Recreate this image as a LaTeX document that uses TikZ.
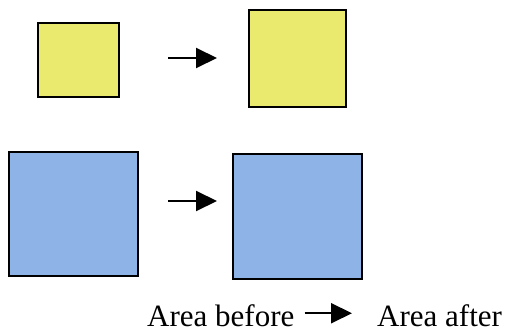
\documentclass[tikz,border=0pt]{standalone}
\usepackage{fontspec}
\setmainfont{Liberation Serif}
\usepackage{xcolor}
\usepackage{tikz}
\usetikzlibrary{arrows.meta}
\definecolor{areaYellow}{HTML}{EAEA6E}
\definecolor{areaBlue}{HTML}{8EB3E6}

\begin{document}
\begin{tikzpicture}[x=1pt, y=-1pt, every node/.style={font=\fontsize{31}{36}\selectfont},
  square/.style={draw=black, line width=2pt, inner sep=0pt, anchor=north west},
  growarrow/.style={-{Triangle[length=21pt, width=20pt]}, line width=2pt}]
   % Canvas (fixes the margins)
   \useasboundingbox (0,0) rectangle (510,329);
    % Yellow squares
    \node[square, fill=areaYellow, minimum width=81pt, minimum height=74pt] (yellowBefore) at (37,22) {};
    \node[square, fill=areaYellow, minimum width=97pt, minimum height=97pt] (yellowAfter) at (248,9) {};
    \coordinate (yellowFrom) at (168,58);
    \coordinate (yellowTo) at (217,58);
    \draw[growarrow] (yellowFrom) -- (yellowTo);

    % Blue squares
    \node[square, fill=areaBlue, minimum width=129pt, minimum height=124pt] (blueBefore) at (8,151) {};
    \node[square, fill=areaBlue, minimum width=129pt, minimum height=125pt] (blueAfter) at (232,153) {};
    \coordinate (blueFrom) at (168,201);
    \coordinate (blueTo) at (217,201);
    \draw[growarrow] (blueFrom) -- (blueTo);

    % Legend
    \node[anchor=base west, inner sep=0pt] (before) at (147,326) {Area before};
    \node[anchor=base west, inner sep=0pt] (after) at (377,326) {Area after};
    \draw[growarrow, shorten <=10pt, shorten >=25pt] ([yshift=2pt]before.east) -- ([yshift=2pt]after.west);
\end{tikzpicture}
\end{document}
